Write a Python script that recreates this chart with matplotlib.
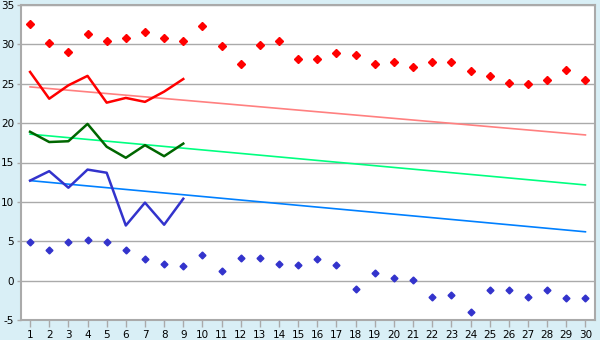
import matplotlib
matplotlib.use("Agg")
import matplotlib.pyplot as plt

days = list(range(1, 31))
max_pts = [32.6, 30.2, 29.0, 31.3, 30.4, 30.8, 31.6, 30.8, 30.4, 32.3,
           29.8, 27.5, 29.9, 30.4, 28.2, 28.2, 28.9, 28.6, 27.5, 27.8,
           27.1, 27.8, 27.8, 26.6, 26.0, 25.1, 25.0, 25.5, 26.8, 25.5]
min_pts = [4.9, 3.9, 4.9, 5.2, 4.9, 3.9, 2.75, 2.1, 1.9, 3.2,
           1.2, 2.9, 2.9, 2.1, 2.0, 2.75, 2.0, -1.06, 0.97, 0.34,
           0.08, -2.07, -1.8, -3.98, -1.19, -1.19, -2.07, -1.19, -2.2, -2.2]
obs_days = list(range(1, 10))
obs_max = [26.5, 23.1, 24.8, 26.0, 22.6, 23.2, 22.7, 24.0, 25.6]
obs_mean = [18.9, 17.6, 17.7, 19.9, 17.0, 15.6, 17.2, 15.8, 17.4]
obs_min = [12.7, 13.9, 11.8, 14.1, 13.7, 7.0, 9.9, 7.1, 10.4]
trend_days = [1, 30]
trend_max = [24.6, 18.5]
trend_mean = [18.6, 12.15]
trend_min = [12.7, 6.2]
yticks = [-5, 0, 5, 10, 15, 20, 25, 30, 35]

bg = "#d9eff6"
grid = "#aaaaaa"

fig = plt.figure(figsize=(6, 3.4), dpi=100, facecolor=bg)
ax = fig.add_axes([20.5/600, 1-320/340, (595-20.5)/600, (320-5)/340])
ax.set_facecolor("white")

for y in yticks:
    ax.axhline(y, color=grid, lw=1, zorder=1)

ax.plot(trend_days, trend_max, color="#ff8080", lw=1.2, zorder=2)
ax.plot(trend_days, trend_mean, color="#00ff80", lw=1.2, zorder=2)
ax.plot(trend_days, trend_min, color="#0080ff", lw=1.2, zorder=2)

ax.plot(obs_days, obs_max, color="#ff0000", lw=1.8, zorder=3)
ax.plot(obs_days, obs_mean, color="#006600", lw=1.8, zorder=3)
ax.plot(obs_days, obs_min, color="#3333cc", lw=1.8, zorder=3)

ax.plot(days, max_pts, linestyle="none", marker="D", markersize=4,
        color="#ff0000", zorder=4)
ax.plot(days, min_pts, linestyle="none", marker="D", markersize=3.5,
        color="#3333cc", zorder=4)

ax.set_xlim(0.5, 30.5)
ax.set_ylim(-5, 35)
ax.set_xticks(days)
ax.set_xticklabels([str(d) for d in days])
ax.set_yticks(yticks)
ax.set_yticklabels([str(y) if y >= 0 else "-" + str(-y) for y in yticks])

for s in ax.spines.values():
    s.set_color(grid)
    s.set_linewidth(1.5)
ax.tick_params(axis="both", colors=grid, labelcolor="black", labelsize=7.5,
               width=1, direction="out")
ax.tick_params(axis="y", length=3, pad=1.5)
ax.tick_params(axis="x", length=5, pad=2)

fig.savefig("out.png", dpi=100, facecolor=bg)
